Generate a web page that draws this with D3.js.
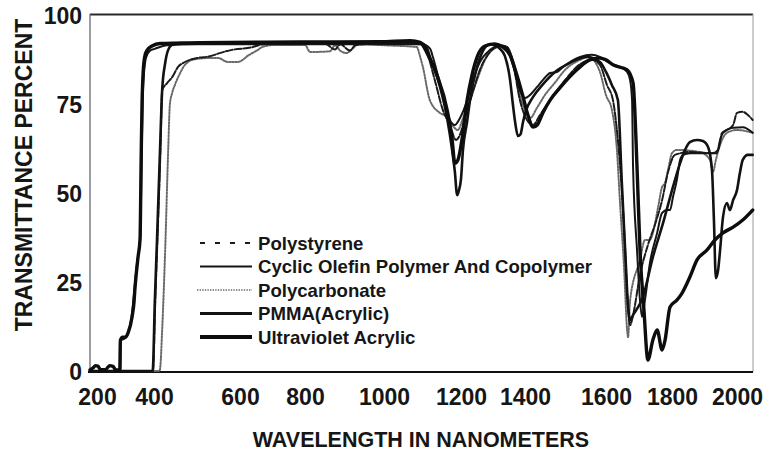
<!DOCTYPE html>
<html>
<head>
<meta charset="utf-8">
<script src="https://cdn.jsdelivr.net/npm/d3@7"></script>
<style>
  html, body { margin: 0; padding: 0; background: #fff; }
  svg { display: block; }
  text { font-family: "Liberation Sans", Arial, Helvetica, sans-serif; font-weight: bold; fill: #161616; }
</style>
</head>
<body>
<svg id="chart" width="770" height="453"></svg>
<script>
// Transmittance spectra of optical plastics: [wavelength nm, transmittance %]
const seriesNames = [
  "Polystyrene",
  "Cyclic Olefin Polymer And Copolymer",
  "Polycarbonate",
  "PMMA(Acrylic)",
  "Ultraviolet Acrylic"
];

const polystyrene = [
  [175,0],[395,0],[397,0.5],[403,20],[408,37],[415,62],[419,78.9],[430,80.8],[442,82.5],[456,85.4],
  [472,86.8],[500,87.9],[530,88.4],[553,89.3],[581,90.2],[640,91],[660,91.6],[700,92],[850,92],
  [876,90.3],[889,91.8],[914,90],[927,91.5],[990,92],[1100,91.8],[1112,89.3],[1132,81.7],[1153,73.3],
  [1171,69.1],[1187,64.9],[1197,66.3],[1212,71],[1234,77.5],[1259,84.6],[1291,89.6],[1322,91.3],
  [1344,91],[1362,86.8],[1384,76.1],[1405,70.5],[1420,69.1],[1437,71.9],[1462,76.1],[1499,81.7],
  [1536,86.2],[1565,87.4],[1585,86],[1603,80.3],[1621,76.1],[1636,64.9],[1648,50.8],[1658,34],
  [1667,17.1],[1673,12.9],[1682,15.7],[1703,27],[1727,35.4],[1748,41],[1770,48],[1788,55.9],
  [1809,60.7],[1855,61.5],[1923,61.2],[1942,62.1],[1954,66.9],[1969,67.7],[1988,69.1],[2000,72.5],
  [2018,72.8],[2034,71.9],[2049,70.5]
];

const cyclicOlefin = [
  [175,0],[282,0],[283,8.5],[300,9.3],[320,14.5],[340,30],[352,38],[357,62],[362,80],[372,88],
  [386,90],[402,90.5],[430,91.5],[500,91.8],[1100,91.8],[1120,90.5],[1127,88.2],[1153,77.5],
  [1171,70.5],[1184,69.1],[1197,71],[1219,76],[1237,81.7],[1259,86.8],[1291,90.2],[1322,91.6],
  [1344,90.7],[1362,86],[1384,78.9],[1400,76.7],[1412,77.5],[1430,79.8],[1444,81.7],[1462,83.7],
  [1479,84],[1494,85.4],[1536,88.2],[1565,88.8],[1585,88.2],[1612,86.5],[1642,85.4],[1664,84],
  [1673,81.7],[1679,76.1],[1682,57.3],[1694,34],[1703,19.9],[1709,15.2],[1718,19.9],[1733,30.3],
  [1755,38.8],[1770,44.4],[1785,45.2],[1794,45.2],[1803,48.9],[1815,53.7],[1825,59.3],[1834,60.7],
  [1855,61.2],[1938,61.2],[1948,64.9],[1957,66.9],[1988,68.3],[2018,68.5],[2049,66.9]
];

const polycarbonate = [
  [175,0],[412,0],[414,0.5],[419,11.5],[426,34],[433,62],[437,75],[442,78],[449,80.5],[460,83.5],
  [472,86],[495,87.6],[526,87.9],[549,87.9],[572,86.8],[595,86.8],[628,88.8],[655,90.2],[668,91],
  [708,91.6],[800,91.6],[813,89.6],[863,89.8],[876,91.5],[889,90],[905,89.3],[920,90.5],[935,91.8],
  [1000,91.5],[1085,91],[1094,88.2],[1101,85.4],[1119,76.1],[1145,72.5],[1164,71.3],[1177,69.1],
  [1192,67.7],[1206,71],[1228,76.1],[1250,81.7],[1275,87.4],[1306,90.7],[1337,91.3],[1362,87.4],
  [1384,77.5],[1400,73.3],[1412,71],[1430,74],[1449,77.5],[1474,81],[1499,84.6],[1536,87.4],
  [1556,88.2],[1573,86.8],[1585,84],[1600,77.5],[1618,73.3],[1633,62.1],[1642,48],[1655,28.4],
  [1664,11.5],[1667,9.5],[1673,19.9],[1703,31.2],[1718,36.8],[1733,36.8],[1742,38.8],[1758,46.1],
  [1770,51.7],[1779,52.8],[1788,56.5],[1800,61.2],[1815,62.1],[1886,61.5],[1917,59.3],[1926,55.9],
  [1935,59.3],[1948,63.5],[1969,66.9],[2000,67.7],[2049,66.9]
];

const pmma = [
  [175,0],[394,0],[396,0.5],[402,19.9],[407,36.8],[414,62.1],[419,78.9],[426,86.5],[433,90.2],
  [442,91.6],[460,92.1],[1095,92.1],[1110,91],[1120,88],[1145,80],[1164,71],[1177,62],[1184,56],
  [1190,49.4],[1194,50.5],[1200,54],[1206,62],[1219,70],[1228,76],[1250,85.4],[1269,90],[1290,91.8],
  [1306,91.6],[1322,90.5],[1337,88.5],[1353,82],[1362,75],[1369,70],[1378,66],[1386,66.5],[1394,70],
  [1402,73],[1420,77],[1444,80.5],[1474,84],[1510,86.5],[1553,88.2],[1585,86.8],[1600,84],
  [1618,80.3],[1636,76.1],[1648,52.8],[1658,34],[1667,18],[1673,14.3],[1682,15.7],[1712,20.8],
  [1742,32],[1773,41.6],[1803,51.7],[1825,58.4],[1840,62.1],[1855,64.3],[1877,64.9],[1895,64.6],
  [1911,62.9],[1923,56.5],[1929,42.4],[1935,26.1],[1942,28.4],[1948,34],[1957,43.3],[1969,47.2],
  [1978,45.2],[1988,48],[2000,50.8],[2009,55.6],[2018,59.3],[2034,60.7],[2049,60.7]
];

const uvAcrylic = [
  [175,0.3],[185,0.8],[195,1.5],[203,1.4],[212,0.4],[230,0.4],[244,1.5],[256,1.3],[266,0.3],
  [280,0.3],[282,8.7],[290,9.5],[300,9.5],[309,10.7],[323,15.2],[330,19.5],[333,23],[338,27.5],
  [344,32],[351,37],[355,60],[358,75],[362,84],[368,88.5],[375,90],[393,91.3],[414,92],[507,92.2],
  [785,92.4],[990,92.5],[1068,92.8],[1094,92.3],[1112,89.3],[1138,83],[1164,73.3],[1177,65],
  [1184,58.4],[1192,59.3],[1203,65],[1219,76],[1234,83],[1253,88.8],[1275,91.3],[1306,91.9],
  [1331,91],[1353,88.8],[1375,83],[1394,77],[1407,72],[1420,68.5],[1430,69.1],[1444,72.5],
  [1462,76.1],[1486,79.5],[1528,84.6],[1560,87.4],[1585,87.9],[1600,87.4],[1621,86],[1664,84.6],
  [1682,80.9],[1694,57.3],[1703,34],[1715,17.1],[1727,3.1],[1742,8.7],[1755,11.5],[1770,5.9],
  [1779,8.7],[1794,18],[1815,19.9],[1831,21.9],[1855,26.4],[1877,31.2],[1908,34],[1932,36.8],
  [1957,38.8],[1988,40.4],[2018,42.4],[2049,45.2]
];

const xTicks = [200, 400, 600, 800, 1000, 1200, 1400, 1600, 1800, 2000];
const yTicks = [0, 25, 50, 75, 100];

// Line styles per series (plot stroke, legend stroke)
const styles = [
  { color: "#1c1c1c", width: 2.0, dash: "7,2",   legendWidth: 2.2, legendDash: "5,10" },
  { color: "#151515", width: 2.0, dash: null,    legendWidth: 2.0, legendDash: null },
  { color: "#6a6a6a", width: 2.0, dash: "1.6,1.6", legendWidth: 1.4, legendDash: "1.4,1.2" },
  { color: "#121212", width: 2.6, dash: null,    legendWidth: 2.8, legendDash: null },
  { color: "#0d0d0d", width: 3.4, dash: null,    legendWidth: 4.0, legendDash: null }
];
const seriesData = [polystyrene, cyclicOlefin, polycarbonate, pmma, uvAcrylic];

const svg = d3.select("#chart");

// Wavelength axis with hand-placed label stops
const x = d3.scaleLinear()
  .domain([175, 200, 400, 600, 800, 1000, 1200, 1400, 1600, 1800, 2000, 2050])
  .range([90, 97, 154, 240, 305, 384, 461, 525, 606, 672, 737, 753]);
const y = d3.scaleLinear().domain([0, 100]).range([371, 15]);

const [x0, x1] = [x(175), x(2050)];
const [yb, yt] = [y(0), y(100)];

// Plot frame
const frame = svg.append("g");
frame.append("line").attr("x1", x0).attr("x2", x1).attr("y1", yt - 0.5).attr("y2", yt - 0.5)
  .attr("stroke", "#2a2a2a").attr("stroke-width", 1.8);
frame.append("line").attr("x1", x0).attr("x2", x0).attr("y1", yt - 1).attr("y2", yb + 1)
  .attr("stroke", "#5a5a66").attr("stroke-width", 1.2);
frame.append("line").attr("x1", x1).attr("x2", x1).attr("y1", yt - 1).attr("y2", yb + 1)
  .attr("stroke", "#9a9aa2").attr("stroke-width", 1);

// Curves
const line = d3.line()
  .x(d => x(d[0]))
  .y(d => y(d[1]))
  .curve(d3.curveMonotoneX);

const order = [2, 0, 1, 3, 4];
svg.append("g").selectAll("path")
  .data(order)
  .join("path")
  .attr("d", i => line(seriesData[i]))
  .attr("fill", "none")
  .attr("stroke", i => styles[i].color)
  .attr("stroke-width", i => styles[i].width)
  .attr("stroke-dasharray", i => styles[i].dash)
  .attr("stroke-linejoin", "round")
  .attr("stroke-linecap", "round");

// Bottom axis line
frame.append("line").attr("x1", x0 - 2).attr("x2", x1).attr("y1", yb + 1).attr("y2", yb + 1)
  .attr("stroke", "#111").attr("stroke-width", 2.2);

// Tick labels
const xAxis = svg.append("g").attr("transform", `translate(0,${yb})`)
  .call(d3.axisBottom(x).tickValues(xTicks).tickSize(0).tickPadding(0).tickFormat(d3.format("d")));
xAxis.select(".domain").remove();
xAxis.selectAll("text").attr("y", 34).attr("dy", null)
  .style("font-size", "23px").style("fill", "#161616");

const yAxis = svg.append("g").attr("transform", `translate(82,0)`)
  .call(d3.axisLeft(y).tickValues(yTicks).tickSize(0).tickPadding(0).tickFormat(d3.format("d")));
yAxis.select(".domain").remove();
yAxis.selectAll("text").attr("x", 0).attr("dy", "0.36em")
  .style("font-size", "23px").style("fill", "#161616");

// Axis titles
svg.append("text")
  .attr("transform", "translate(32,175) rotate(-90)")
  .attr("text-anchor", "middle")
  .style("font-size", "23px")
  .text("TRANSMITTANCE PERCENT");

svg.append("text")
  .attr("x", 421).attr("y", 447)
  .attr("text-anchor", "middle")
  .style("font-size", "21.5px")
  .text("WAVELENGTH IN NANOMETERS");

// Legend
const legend = svg.append("g").attr("transform", "translate(200,243)");
const rows = legend.selectAll("g").data(seriesNames).join("g")
  .attr("transform", (d, i) => `translate(0,${i * 23.5})`);
rows.append("line")
  .attr("x1", (d, i) => i === 2 ? -3 : 0).attr("x2", 52).attr("y1", 0).attr("y2", 0)
  .attr("stroke", (d, i) => styles[i].color)
  .attr("stroke-width", (d, i) => styles[i].legendWidth)
  .attr("stroke-dasharray", (d, i) => styles[i].legendDash);
rows.append("text")
  .attr("x", 58).attr("y", 0).attr("dy", "0.36em")
  .style("font-size", "18.6px")
  .text(d => d);
</script>
</body>
</html>
